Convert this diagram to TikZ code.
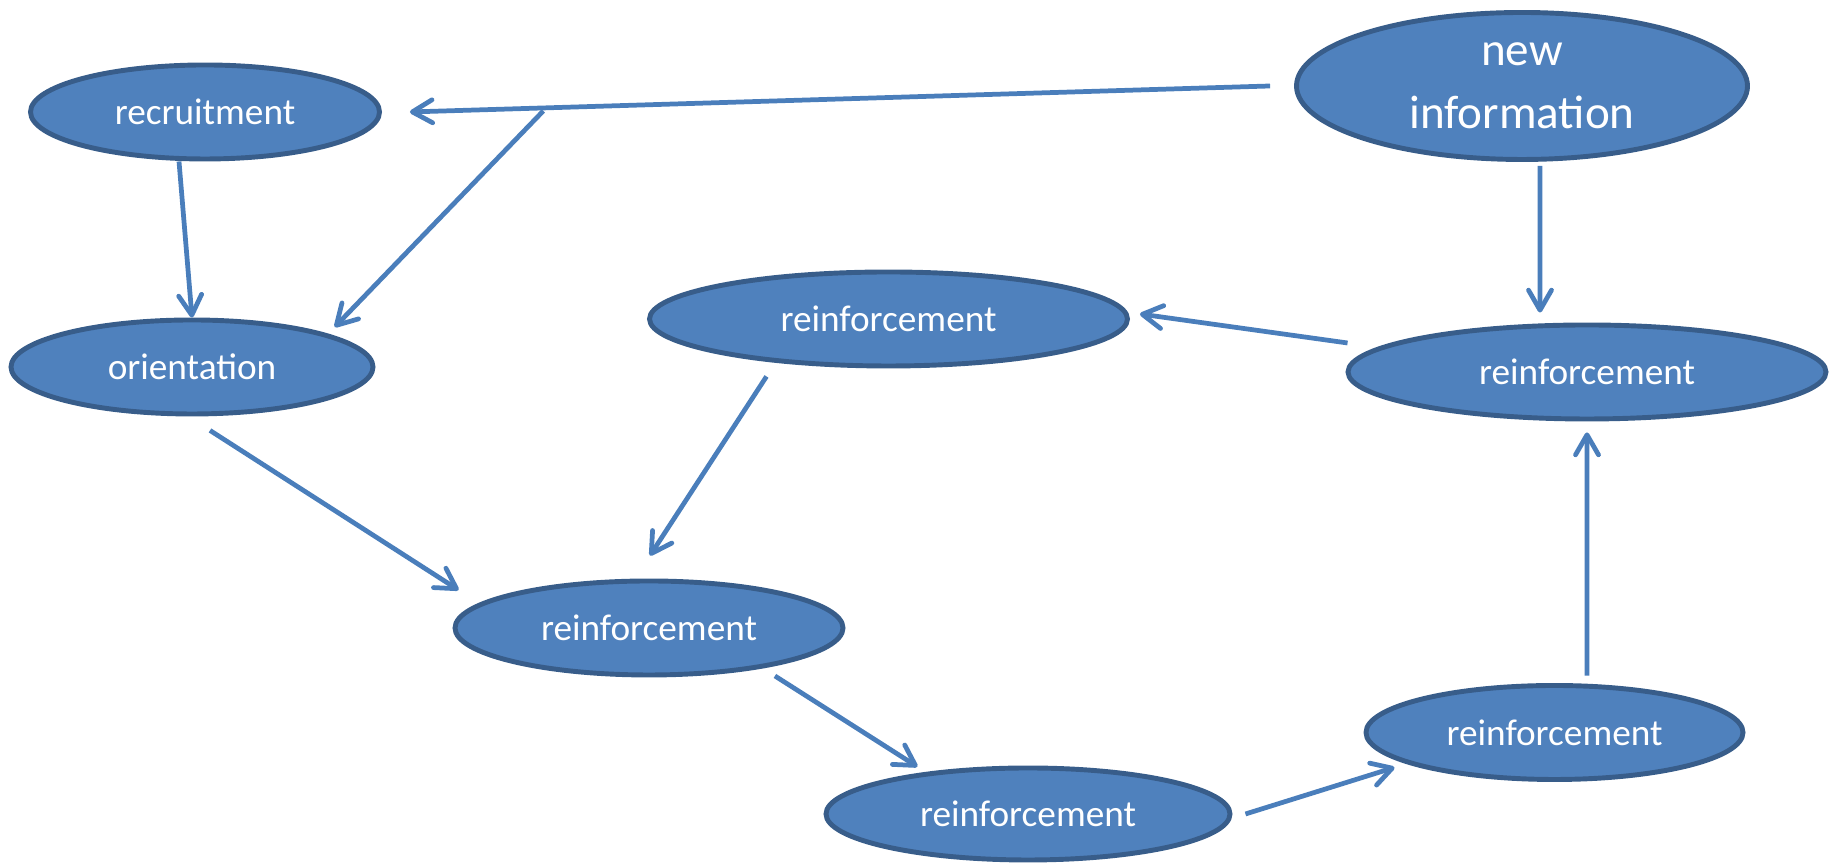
\documentclass[tikz,border=0pt]{standalone}
\usepackage{fontspec}
\setmainfont{Carlito}
\usepackage{tikz}
\usetikzlibrary{arrows.meta, shapes.geometric}
\definecolor{bubble}{HTML}{4F81BD}
\definecolor{rim}{HTML}{385D8A}
\definecolor{link}{HTML}{4A7EBB}

\begin{document}
\begin{tikzpicture}[
  blob/.style={ellipse, draw=rim, fill=bubble, line width=1.4pt, inner sep=0pt,
               minimum height=0.94cm, text=white,
               font=\fontsize{10.6}{12.7}\selectfont},
  arr/.style={-{Straight Barb[length=2mm, width=2.3mm, round]},
              color=link, line width=1.35pt}
]
  \useasboundingbox (0,0) rectangle (18.33,8.64);

  % Entry
  \node[blob, minimum width=3.49cm] (recruit) at (2.05,7.52) {recruitment};
  \node[blob, minimum width=4.51cm, minimum height=1.47cm, align=center,
        font=\fontsize{13.4}{17}\selectfont]
    (newinfo) at (15.22,7.78) {new\\[0.3mm]information};
  \node[blob, minimum width=3.62cm] (orient) at (1.92,4.97) {orientation};

  % Reinforcement loop
  \node[blob, minimum width=4.78cm] (rtop) at (8.885,5.45) {reinforcement};
  \node[blob, minimum width=4.78cm] (rright) at (15.87,4.92) {reinforcement};
  \node[blob, minimum width=3.88cm] (rcenter) at (6.49,2.36) {reinforcement};
  \node[blob, minimum width=4.04cm, minimum height=0.92cm]
    (rbottom) at (10.28,0.50) {reinforcement};
  \node[blob, minimum width=3.77cm] (rbr) at (15.545,1.315) {reinforcement};

  \draw[arr] ([xshift=-2.4mm]newinfo.west)
    -- coordinate[pos=0.845] (fork) ([xshift=2.8mm]recruit.east);
  \draw[arr] ([yshift=-0.3mm]fork) -- ([xshift=1.3mm, yshift=0.5mm]orient.north east);
  \draw[arr] ([xshift=-2.6mm]recruit.south) -- (orient.north);
  \draw[arr] ([xshift=1.8mm, yshift=-0.4mm]newinfo.south)
    -- ([xshift=-4.7mm, yshift=1mm]rright.north);
  \draw[arr] ([xshift=0.2mm, yshift=2.9mm]rright.west)
    -- ([xshift=1mm, yshift=0.5mm]rtop.east);
  \draw[arr] ([xshift=-12.2mm, yshift=-0.8mm]rtop.south)
    -- ([xshift=0.1mm, yshift=2.3mm]rcenter.north);
  \draw[arr] ([xshift=1.8mm, yshift=-1.4mm]orient.south)
    -- ([xshift=0.6mm, yshift=3.8mm]rcenter.west);
  \draw[arr] ([xshift=-1.3mm, yshift=-1.3mm]rcenter.south east)
    -- ([xshift=3.4mm, yshift=1.3mm]rbottom.north west);
  \draw[arr] ([xshift=1.3mm]rbottom.east) -- ([xshift=-2.5mm]rbr.south west);
  \draw[arr] ([xshift=3.25mm, yshift=0.75mm]rbr.north)
    -- ([yshift=-1.1mm]rright.south);
\end{tikzpicture}
\end{document}
